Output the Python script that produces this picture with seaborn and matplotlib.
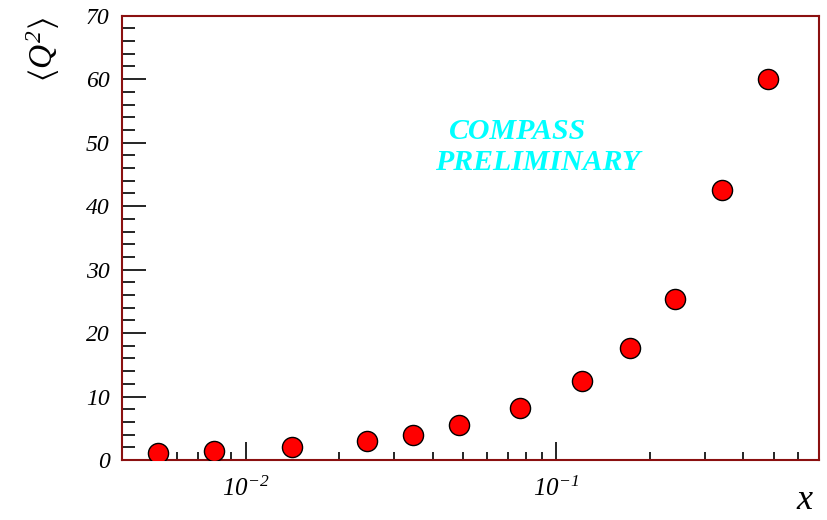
import matplotlib
matplotlib.use("Agg")
import matplotlib.pyplot as plt
import matplotlib.ticker as mticker
import seaborn as sns
import pandas as pd
import numpy as np

# Data
x_vals = [0.00521, 0.00791, 0.01412, 0.0245, 0.0346, 0.0486, 0.0764, 0.1212, 0.172, 0.240, 0.341, 0.480]
q2_vals = [1.15, 1.47, 2.0, 2.95, 3.99, 5.5, 8.15, 12.5, 17.6, 25.3, 42.5, 60.0]
y_ticks = [0, 10, 20, 30, 40, 50, 60, 70]
x_major = [0.01, 0.1]
x_major_labels = [r"$10^{-2}$", r"$10^{-1}$"]

df = pd.DataFrame({"x": x_vals, "Q2": q2_vals})

sns.set_style("white")
plt.rcParams["font.family"] = ["Liberation Serif", "DejaVu Serif"]
plt.rcParams["mathtext.fontset"] = "custom"
plt.rcParams["mathtext.rm"] = "Liberation Serif:italic"
plt.rcParams["mathtext.it"] = "Liberation Serif:italic"
plt.rcParams["mathtext.bf"] = "Liberation Serif:bold:italic"
plt.rcParams["mathtext.fallback"] = "stix"
plt.rcParams["mathtext.default"] = "it"

fig = plt.figure(figsize=(8.27, 5.20), dpi=100)
ax = fig.add_axes([0.1475, 0.1154, 0.9903 - 0.1475, 0.9698 - 0.1154])

sns.scatterplot(data=df, x="x", y="Q2", ax=ax, s=210, color="#ff0000",
                edgecolor="black", linewidth=1.0, zorder=5, legend=False)

ax.set_xscale("log")
ax.set_xlim(0.004, 0.7)
ax.set_ylim(0, 70)

ax.set_xticks(x_major)
ax.set_xticklabels(x_major_labels)
ax.xaxis.set_minor_locator(mticker.LogLocator(base=10, subs=np.arange(2, 10) * 1.0, numticks=20))
ax.xaxis.set_minor_formatter(mticker.NullFormatter())
ax.set_yticks(y_ticks)
ax.set_yticklabels([str(v) for v in y_ticks])
ax.yaxis.set_minor_locator(mticker.MultipleLocator(2))

ax.tick_params(axis="both", which="both", bottom=True, left=True, top=False, right=False,
               labelcolor="black")
ax.tick_params(axis="y", which="major", direction="in", length=17, width=1.2, color="black",
               labelsize=17, pad=9)
ax.tick_params(axis="y", which="minor", direction="in", length=9, width=1.2, color="black")
ax.tick_params(axis="x", which="major", direction="in", length=13, width=1.2, color="black",
               labelsize=18, pad=12)
ax.tick_params(axis="x", which="minor", direction="in", length=6, width=1.2, color="black")

for lab in ax.get_yticklabels():
    lab.set_fontstyle("italic")
for lab in ax.get_xticklabels():
    lab.set_fontstyle("italic")

for side, sp in ax.spines.items():
    sp.set_color("#8b1010")
    sp.set_linewidth(1.5)
    sp.set_visible(True)

ax.set_xlabel("")
ax.set_ylabel("")

fig.text(0.052, 0.905, r"$\langle Q^{2}\rangle$", rotation=90, fontsize=24,
         ha="center", va="center", color="black")
fig.text(0.973, 0.005, r"$x$", fontsize=26, ha="center", va="bottom", color="black")

ax.text(0.4695, 0.739, "COMPASS", transform=ax.transAxes, color="#00ffff",
        fontsize=21.5, fontweight="bold", fontstyle="italic", ha="left", va="center")
ax.text(0.4495, 0.669, "PRELIMINARY", transform=ax.transAxes, color="#00ffff",
        fontsize=21.5, fontweight="bold", fontstyle="italic", ha="left", va="center")

fig.savefig("out.png", dpi=100, facecolor="white")
